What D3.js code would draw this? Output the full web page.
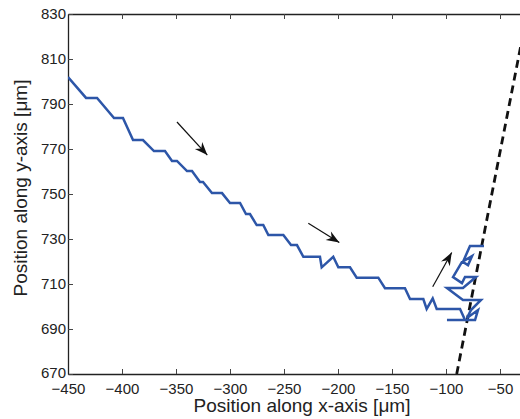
<!DOCTYPE html>
<html>
<head>
<meta charset="utf-8">
<script src="https://cdn.jsdelivr.net/npm/d3@7"></script>
<style>
    body { margin: 0; background: #fff; }
    text { font-family: "Liberation Sans", Arial, Helvetica, sans-serif; fill: #222; }
</style>
</head>
<body>
<div id="chart"></div>
<script>
// trajectory (micrometres)
const trackX = [-450, -433.3, -423.1, -407.4, -399.1, -389.8, -380.6, -370.4, -360.2, -353.7,
    -349.1, -339.8, -335.2, -327.8, -325.0, -316.7, -307.4, -300.0, -290.7, -285.2,
    -281.5, -275.3, -269.2, -264.5, -250.6, -243.5, -238.0, -232.1, -216.7, -215.1,
    -204.4, -199.7, -188.9, -182.7, -162.7, -156.5, -138.0, -133.3, -121.0, -117.9,
    -112.3, -108.6, -87.0, -82.4, -99.1, -73.1, -70.4, -80.6, -76.9, -67.6,
    -84.3, -99.1, -84.3, -72.2, -82.4, -85.2, -93.5, -85.2, -75.9, -79.6,
    -84.3, -77.8, -64.8];
const trackY = [802.0, 792.7, 792.7, 783.8, 783.8, 774.0, 774.0, 769.1, 769.1, 764.7,
    764.7, 760.2, 760.2, 755.3, 755.3, 750.4, 750.4, 746.0, 746.0, 741.1,
    741.1, 736.2, 736.2, 731.8, 731.8, 727.3, 727.3, 722.1, 722.1, 717.4,
    722.1, 717.4, 717.4, 712.8, 712.8, 708.1, 708.1, 703.3, 703.3, 698.9,
    703.6, 698.9, 698.9, 694.0, 694.0, 694.0, 698.4, 694.9, 698.4, 702.9,
    702.9, 708.2, 708.2, 713.1, 713.1, 710.4, 713.1, 719.8, 722.4, 718.4,
    719.8, 726.9, 726.9];

// dashed boundary line
const edgeX = [-90.1, -25];
const edgeY = [670, 830];

// arrows: [x0, y0, x1, y1]
const arrows = [
    [-349.1, 782.0, -321.0, 767.3],
    [-227.5, 737.0, -198.8, 728.4],
    [-112.3, 708.8, -94.7, 724.0]
];

const xTicks = [-450, -400, -350, -300, -250, -200, -150, -100, -50];
const yTicks = [670, 690, 710, 730, 750, 770, 790, 810, 830];

const width = 520,
    height = 419,
    margin = { top: 14, right: -7, bottom: 45, left: 68 };

const svg = d3.select("#chart")
    .append("svg")
    .attr("width", width)
    .attr("height", height);

const x = d3.scaleLinear()
    .domain([-450, -25])
    .range([margin.left, width - margin.right]);

const y = d3.scaleLinear()
    .domain([670, 830])
    .range([height - margin.bottom, margin.top]);

svg.append("clipPath")
    .attr("id", "plot-clip")
    .append("rect")
    .attr("x", margin.left)
    .attr("y", margin.top)
    .attr("width", width - margin.right - margin.left)
    .attr("height", height - margin.bottom - margin.top);

// axes
const xAxis = svg.append("g")
    .attr("transform", `translate(0,${height - margin.bottom})`)
    .call(d3.axisBottom(x).tickValues(xTicks).tickSizeInner(-5).tickSizeOuter(0).tickPadding(9));

const topAxis = svg.append("g")
    .attr("transform", `translate(0,${margin.top})`)
    .call(d3.axisTop(x).tickValues(xTicks).tickSizeInner(-5).tickSizeOuter(0).tickFormat(""));

const yAxis = svg.append("g")
    .attr("transform", `translate(${margin.left},0)`)
    .call(d3.axisLeft(y).tickValues(yTicks).tickSizeInner(-5).tickSizeOuter(0).tickPadding(2));

[xAxis, topAxis, yAxis].forEach((g) => {
    g.select(".domain").attr("stroke", "#222").attr("stroke-width", 1.3);
    g.selectAll(".tick line").attr("stroke", "#444");
    g.selectAll(".tick text").style("font-size", "15px").attr("fill", "#222");
});

// lift the lowest y label a touch so it clears the first x label
yAxis.selectAll(".tick text").filter((d) => d === 670).attr("dy", "0.2em");

// dashed line
svg.append("path")
    .attr("clip-path", "url(#plot-clip)")
    .attr("d", d3.line()(edgeX.map((v, i) => [x(v), y(edgeY[i])])))
    .attr("fill", "none")
    .attr("stroke", "#111")
    .attr("stroke-width", 2.8)
    .attr("stroke-dasharray", "8,5");

// trajectory
const line = d3.line()
    .x((d, i) => x(trackX[i]))
    .y((d, i) => y(trackY[i]));

svg.append("path")
    .attr("clip-path", "url(#plot-clip)")
    .attr("d", line(trackX))
    .attr("fill", "none")
    .attr("stroke", "#2d56a8")
    .attr("stroke-width", 2.5)
    .attr("stroke-linejoin", "miter");

// arrows
svg.append("defs")
    .append("marker")
    .attr("id", "head")
    .attr("markerUnits", "userSpaceOnUse")
    .attr("viewBox", "-14 -6 16 12")
    .attr("refX", 0)
    .attr("refY", 0)
    .attr("markerWidth", 16)
    .attr("markerHeight", 12)
    .attr("orient", "auto")
    .append("path")
    .attr("d", "M0,0 L-13,-5 L-9,0 L-13,5 Z")
    .attr("fill", "#111");

svg.append("g")
    .selectAll("line")
    .data(arrows)
    .join("line")
    .attr("x1", (d) => x(d[0]))
    .attr("y1", (d) => y(d[1]))
    .attr("x2", (d) => x(d[2]))
    .attr("y2", (d) => y(d[3]))
    .attr("stroke", "#111")
    .attr("stroke-width", 1.2)
    .attr("marker-end", "url(#head)");

// axis titles
svg.append("text")
    .attr("x", 302)
    .attr("y", 412)
    .attr("text-anchor", "middle")
    .style("font-size", "19px")
    .text("Position along x-axis [μm]");

svg.append("text")
    .attr("transform", "translate(27,188) rotate(-90)")
    .attr("text-anchor", "middle")
    .style("font-size", "19px")
    .text("Position along y-axis [μm]");
</script>
</body>
</html>
